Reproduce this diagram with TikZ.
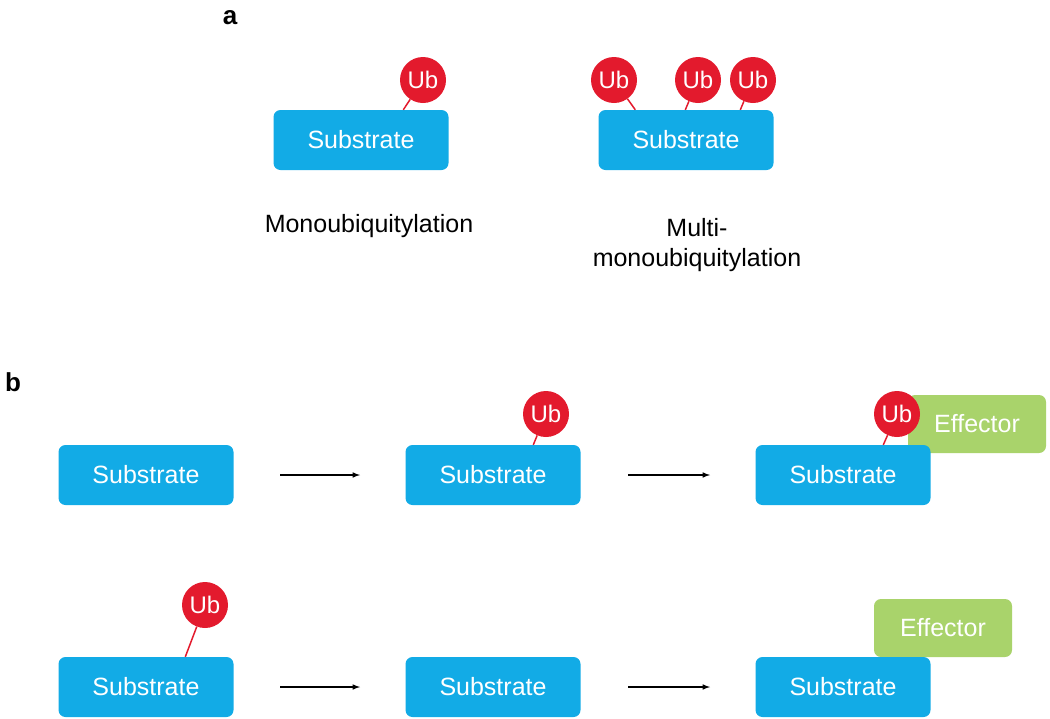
\documentclass[tikz,border=0pt]{standalone}
\usepackage{fontspec}
\setmainfont{Liberation Sans}
\definecolor{subblue}{HTML}{12ABE6}
\definecolor{ubred}{HTML}{E31A2D}
\definecolor{effgreen}{HTML}{A9D36B}
\begin{document}
\begin{tikzpicture}[x=1pt,y=-1pt,
  sub/.style={fill=subblue,rounded corners=7pt,minimum width=175pt,minimum height=60pt,text=white,font=\fontsize{25}{28}\selectfont,inner sep=0pt},
  eff/.style={fill=effgreen,rounded corners=7pt,minimum width=138pt,minimum height=58pt,text=white,font=\fontsize{25}{28}\selectfont,inner sep=0pt},
  ub/.style={circle,fill=ubred,minimum size=46pt,inner sep=0pt,text=white,font=\fontsize{24}{26}\selectfont},
  link/.style={ubred,line width=1.5pt},
  arr/.style={-latex,line width=1.5pt,black},
  lab/.style={font=\fontsize{25}{30}\selectfont,align=center},
  panel/.style={font=\bfseries\fontsize{26}{28}\selectfont}]
\useasboundingbox (0,0) rectangle (1050,718);
\node[panel] (pa) at (230,18) {a};
\node[panel] (pb) at (13,382) {b};
% panel a
\node[sub] (s1) at (361,140) {Substrate};
\node[ub] (u1) at (423,80) {Ub};
\draw[link] (u1) -- ([xshift=130pt]s1.north west);
\node[sub] (s2) at (686,140) {Substrate};
\node[ub] (u2) at (614,80) {Ub};
\node[ub] (u3) at (698,80) {Ub};
\node[ub] (u4) at (753,80) {Ub};
\draw[link] (u2) -- ([xshift=37pt]s2.north west);
\draw[link] (u3) -- ([xshift=87pt]s2.north west);
\draw[link] (u4) -- ([xshift=142pt]s2.north west);
\node[lab] (l1) at (369,226) {Monoubiquitylation};
\node[lab] (l2) at (697,245) {Multi-\\monoubiquitylation};
% panel b row 1
\node[sub] (b1) at (146,475) {Substrate};
\node[sub] (b2) at (493,475) {Substrate};
\node[ub] (bu2) at (546,414) {Ub};
\draw[link] (bu2) -- ([xshift=128pt]b2.north west);
\node[eff] (e1) at (977,424) {Effector};
\node[sub] (b3) at (843,475) {Substrate};
\node[ub] (bu3) at (897,414) {Ub};
\draw[link] (bu3) -- ([xshift=128pt]b3.north west);
\coordinate (a1s) at (280,475); \coordinate (a1e) at (360,475);
\coordinate (a2s) at (628,475); \coordinate (a2e) at (710,475);
\draw[arr] (a1s) -- (a1e);
\draw[arr] (a2s) -- (a2e);
% row 2
\node[sub] (c1) at (146,687) {Substrate};
\node[ub] (cu1) at (205,605) {Ub};
\draw[link] (cu1) -- ([xshift=127pt]c1.north west);
\node[sub] (c2) at (493,687) {Substrate};
\node[eff] (e2) at (943,628) {Effector};
\node[sub] (c3) at (843,687) {Substrate};
\coordinate (a3s) at (280,687); \coordinate (a3e) at (360,687);
\coordinate (a4s) at (628,687); \coordinate (a4e) at (710,687);
\draw[arr] (a3s) -- (a3e);
\draw[arr] (a4s) -- (a4e);
\end{tikzpicture}
\end{document}
